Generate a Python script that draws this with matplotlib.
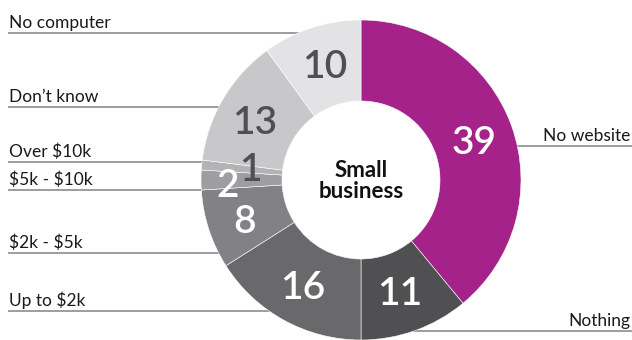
import matplotlib
matplotlib.use("Agg")
import matplotlib.pyplot as plt
import numpy as np

categories = ["No website", "Nothing", "Up to $2k", "$2k - $5k", "$5k - $10k",
              "Over $10k", "Don't know", "No computer"]
values = [39, 11, 16, 8, 2, 1, 13, 10]
colors = ["#A6228B", "#505052", "#69696C", "#828286", "#9E9EA1",
          "#B3B3B6", "#C8C8CA", "#E3E3E5"]
num_colors = ["white", "white", "white", "white", "white", "#505052", "#505052", "#505052"]
num_nudge = [(1, 3), (-2, 2), (-1, 3), (-3, 5), (-14, 6), (8, 1), (-3, 4), (1, 1)]
center_title = "Small\nbusiness"

# label layout: (text, y of rule line in px from top)
left_labels = [("No computer", 33), ("Don\u2019t know", 107), ("Over $10k", 162),
               ("$5k - $10k", 190), ("$2k - $5k", 253), ("Up to $2k", 311)]
right_labels = [("No website", 146), ("Nothing", 331)]

plt.rcParams['text.parse_math'] = False
plt.rcParams['font.family'] = ['Lato', 'DejaVu Sans']

W, H = 632, 340
fig = plt.figure(figsize=(W / 100, H / 100), dpi=100)
ax = fig.add_axes([0, 0, 1, 1])

cx, cy = 361, H - 180
R, r = 160, 79

wedges, _ = ax.pie(values, colors=colors, startangle=90, counterclock=False,
                   center=(cx, cy), radius=R,
                   wedgeprops=dict(width=R - r, edgecolor="white", linewidth=0.4),
                   frame=True)
for w in wedges:
    w.set_zorder(3)

# numbers
cum = np.cumsum([0] + values[:-1])
total = sum(values)
for v, c0, col, (dx, dy) in zip(values, cum, num_colors, num_nudge):
    ang = np.deg2rad(90 - (c0 + v / 2) / total * 360)
    rm = (R + r) / 2
    x = cx + rm * np.cos(ang) + dx
    y = cy + rm * np.sin(ang) - dy
    ax.text(x, y, str(v), ha="center", va="center", fontsize=28,
            fontweight="semibold", color=col, zorder=5)

# rules and labels
line_col = "#8C8C8C"
for txt, yl in left_labels:
    y = H - yl
    xe = cx - np.sqrt(max(R**2 - (y - cy)**2, 0)) + 1
    ax.plot([8, xe], [y, y], color=line_col, lw=1.2, zorder=1, solid_capstyle="butt")
    ax.text(9, y + 5, txt, ha="left", va="baseline", fontsize=12.5, color="#1a1a1a")
for txt, yl in right_labels:
    y = H - yl
    xs = cx + np.sqrt(max(R**2 - (y - cy)**2, 0)) - 1
    ax.plot([xs, W], [y, y], color=line_col, lw=1.2, zorder=1, solid_capstyle="butt")
    ax.text(630, y + 5, txt, ha="right", va="baseline", fontsize=12.5, color="#1a1a1a")

ax.text(cx, cy - 1, center_title, ha="center", va="center", fontsize=16,
        fontweight="bold", color="#111111", linespacing=1.05, zorder=6)

ax.set_xlim(0, W)
ax.set_ylim(0, H)
ax.set_aspect("equal")
ax.axis("off")
fig.savefig("out.png", dpi=100)
